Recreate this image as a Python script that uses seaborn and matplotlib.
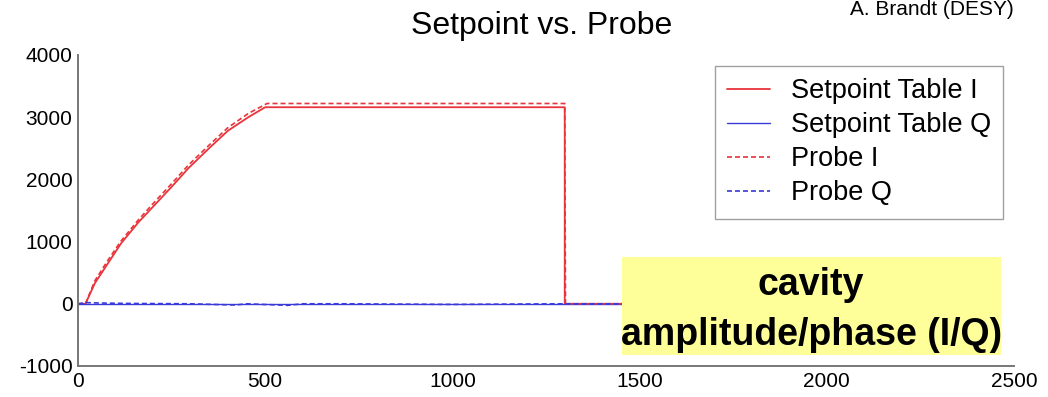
import numpy as np
import pandas as pd
import matplotlib
matplotlib.use("Agg")
import matplotlib.pyplot as plt
from matplotlib.patches import Rectangle
import seaborn as sns

# Dados
setpoint_x = [0, 20, 45, 80, 115, 160, 205, 250, 295, 350, 400, 455, 500, 1300, 1300, 2048]
setpoint_I = [0, 0, 330, 650, 970, 1300, 1590, 1880, 2180, 2500, 2780, 3000, 3160, 3160, 0, 0]
setpoint_Qx = [0, 2048]
setpoint_Q = [0, 0]

probe_x = [20, 45, 80, 115, 160, 205, 250, 295, 350, 400, 455, 505, 1300, 1302, 2048]
probe_I = [0, 370, 700, 1010, 1340, 1640, 1930, 2230, 2550, 2830, 3060, 3220, 3220, 0, 0]
probe_Qx = [0, 20, 40, 80, 150, 300, 420, 450, 560, 600, 700, 1000, 1300, 2048]
probe_Q = [0, 20, 15, 10, 5, 0, -20, 0, -25, 0, 0, -10, 0, 0]

x_ticks = [0, 500, 1000, 1500, 2000, 2500]
y_ticks = [-1000, 0, 1000, 2000, 3000, 4000]

sns.set_style("white")
plt.rcParams['font.family'] = ['Liberation Sans', 'DejaVu Sans']
plt.rcParams['axes.unicode_minus'] = False
plt.rcParams['text.color'] = 'black'
plt.rcParams['xtick.color'] = 'black'
plt.rcParams['ytick.color'] = 'black'

fig = plt.figure(figsize=(10.48, 3.97), dpi=100)
ax = fig.add_axes([0.0744, 0.0781, 0.8932, 0.7834])

red = '#e8343a'
blue = '#3a3ad8'
dash = (0, (3, 1.8))

sns.lineplot(x=setpoint_x, y=setpoint_I, ax=ax, color=red, lw=1.3, sort=False,
             estimator=None, label='Setpoint Table I')
sns.lineplot(x=setpoint_Qx, y=setpoint_Q, ax=ax, color=blue, lw=1.0, sort=False,
             estimator=None, label='Setpoint Table Q')
sns.lineplot(x=probe_x, y=probe_I, ax=ax, color=red, lw=1.2, sort=False,
             estimator=None, label='Probe I', linestyle=dash)
sns.lineplot(x=probe_Qx, y=probe_Q, ax=ax, color=blue, lw=1.2, sort=False,
             estimator=None, label='Probe Q', linestyle=dash)

ax.set_xlim(0, 2500)
ax.set_ylim(-1000, 4000)
ax.set_xticks(x_ticks)
ax.set_yticks(y_ticks)
ax.tick_params(direction='in', length=7, width=1, color='#777777', labelsize=15,
               labelcolor='black', pad=4)
for s in ['top', 'right']:
    ax.spines[s].set_visible(False)
for s in ['left', 'bottom']:
    ax.spines[s].set_color('#777777')
    ax.spines[s].set_linewidth(1.4)

leg = ax.legend(loc='upper right', bbox_to_anchor=(0.957, 0.834),
                bbox_transform=fig.transFigure, fontsize=19.5, frameon=True,
                fancybox=False, edgecolor='#888888', handlelength=1.6,
                labelspacing=0.3, borderpad=0.45, handletextpad=0.75,
                borderaxespad=0)
leg.get_frame().set_linewidth(1.0)
for t in leg.get_texts():
    t.set_color('black')

fig.text(0.517, 0.935, 'Setpoint vs. Probe', fontsize=23, ha='center', va='center')
fig.text(0.967, 0.962, 'A. Brandt (DESY)', fontsize=15, ha='right', va='baseline')

fig.patches.append(Rectangle((0.5935, 0.1058), 0.3616, 0.2469, transform=fig.transFigure,
                             facecolor='#ffff99', edgecolor='none', zorder=5))
fig.text(0.774, 0.282, 'cavity', fontsize=27, fontweight='bold', ha='center', va='center', zorder=6)
fig.text(0.774, 0.155, 'amplitude/phase (I/Q)', fontsize=27, fontweight='bold',
         ha='center', va='center', zorder=6)

plt.savefig('out.png', dpi=100)
